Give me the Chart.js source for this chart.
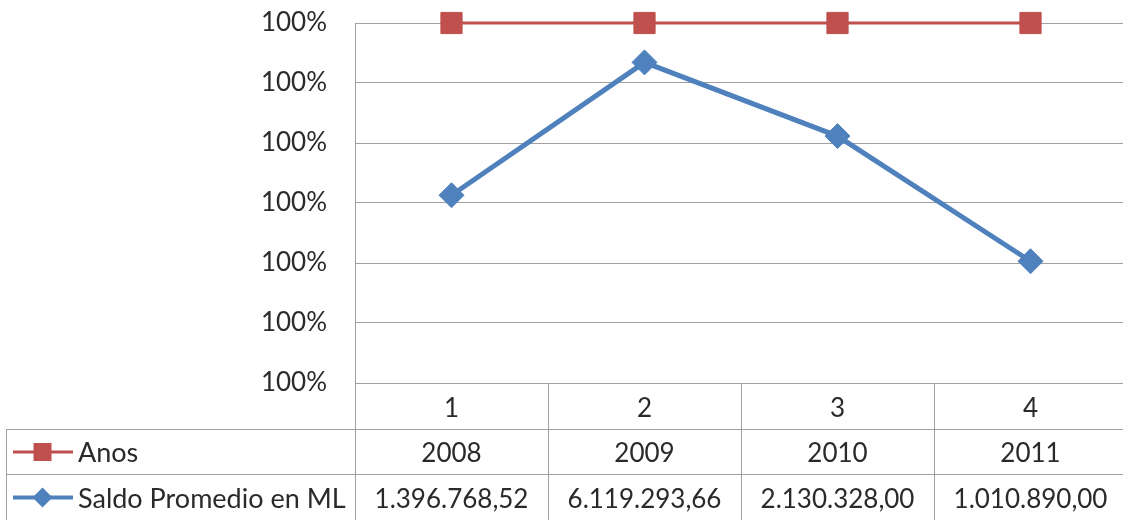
<!DOCTYPE html>
<html>
<head>
<meta charset="utf-8">
<script src="https://cdn.jsdelivr.net/npm/chart.js@4.4.1/dist/chart.umd.min.js"></script>
<style>
  html, body { margin: 0; padding: 0; background: #fff; overflow: hidden; width: 1123px; height: 520px; }
  canvas { display: block; }
</style>
</head>
<body>
<canvas id="c" width="1130" height="520"></canvas>
<script>
// Category positions, the two series and the axis tick labels
const categories = ['1', '2', '3', '4'];
const anos = [2008, 2009, 2010, 2011];
const saldo = [1396768.52, 6119293.66, 2130328.00, 1010890.00];
const seriesNames = ['Anos', 'Saldo Promedio en ML'];
const yTicks = { min: 0.997, max: 1.0, step: 0.0005 };

// 100% stacked line: each series is drawn as its cumulative share of the column total
const totals = anos.map((a, i) => a + saldo[i]);
const saldoShare = saldo.map((s, i) => s / totals[i]);
const anosShare = anos.map((a, i) => (saldo[i] + a) / totals[i]);

const FONT = 'Lato, "Open Sans", sans-serif';
const FONT_SIZE = 26;
const TEXT = '#2a2a2a';
const GRID = '#a0a0a0';
const RED = '#C0504D';
const BLUE = '#4F81BD';

const fmtSaldo = v => v.toLocaleString('de-DE', { minimumFractionDigits: 2, maximumFractionDigits: 2 });

// Data table under the plot: series legend keys, names and the raw values per category
const dataTable = {
  id: 'dataTable',
  afterDraw(chart) {
    const ctx = chart.ctx;
    const xs = chart.scales.x;
    const area = chart.chartArea;
    const top = Math.round(area.bottom);
    const bottom = chart.height;
    const rowH = (bottom - top) / 3;
    const r1 = Math.round(top + rowH);
    const r2 = Math.round(top + 2 * rowH);
    const left = 6;
    const n = categories.length;
    const colW = (xs.right - xs.left) / n;

    ctx.save();
    ctx.strokeStyle = GRID;
    ctx.lineWidth = 1;
    ctx.beginPath();
    // row separators
    ctx.moveTo(left, r1 + 0.5); ctx.lineTo(chart.width, r1 + 0.5);
    ctx.moveTo(left, r2 + 0.5); ctx.lineTo(chart.width, r2 + 0.5);
    // legend column left edge
    ctx.moveTo(left + 0.5, r1); ctx.lineTo(left + 0.5, bottom);
    // column edges
    for (let i = 0; i <= n; i++) {
      const x = Math.round(xs.left + i * colW) + 0.5;
      ctx.moveTo(x, top); ctx.lineTo(x, bottom);
    }
    ctx.stroke();

    // legend keys
    const keyX0 = 13, keyX1 = 73, keyC = 42.5;
    const y1 = (r1 + r2) / 2 + 0.5;
    const y2 = (r2 + bottom) / 2 + 0.5;
    ctx.strokeStyle = RED; ctx.lineWidth = 3;
    ctx.beginPath(); ctx.moveTo(keyX0, y1); ctx.lineTo(keyX1, y1); ctx.stroke();
    ctx.fillStyle = RED;
    ctx.fillRect(keyC - 9, y1 - 9, 18, 18);
    ctx.strokeStyle = BLUE; ctx.lineWidth = 4;
    ctx.beginPath(); ctx.moveTo(keyX0, y2); ctx.lineTo(keyX1, y2); ctx.stroke();
    ctx.fillStyle = BLUE;
    ctx.beginPath();
    ctx.moveTo(keyC, y2 - 10); ctx.lineTo(keyC + 10, y2); ctx.lineTo(keyC, y2 + 10); ctx.lineTo(keyC - 10, y2);
    ctx.closePath(); ctx.fill();

    // texts
    ctx.fillStyle = TEXT;
    ctx.textBaseline = 'alphabetic';
    ctx.textAlign = 'left';
    const b1 = y1 + 9.5, b2 = y2 + 10;
    ctx.font = '27px ' + FONT;
    ctx.fillText(seriesNames[0], 78, b1);
    ctx.fillText(seriesNames[1], 78, b2);
    ctx.font = FONT_SIZE + 'px ' + FONT;
    ctx.textAlign = 'center';
    for (let i = 0; i < n; i++) {
      const cx = xs.getPixelForValue(i);
      ctx.fillText(String(anos[i]), cx, b1);
      ctx.fillText(fmtSaldo(saldo[i]), cx, b2);
    }
    ctx.restore();
  }
};

new Chart(document.getElementById('c'), {
  type: 'line',
  data: {
    labels: categories,
    datasets: [
      {
        label: seriesNames[0],
        data: anosShare,
        borderColor: RED,
        backgroundColor: RED,
        borderWidth: 3,
        pointStyle: 'rect',
        pointRadius: 15,
        pointBorderWidth: 1,
        pointBorderColor: RED,
        tension: 0,
        clip: false
      },
      {
        label: seriesNames[1],
        data: saldoShare,
        borderColor: BLUE,
        backgroundColor: BLUE,
        borderWidth: 5,
        pointStyle: 'rectRot',
        pointRadius: 12.5,
        pointBorderWidth: 1,
        pointBorderColor: BLUE,
        tension: 0,
        clip: false
      }
    ]
  },
  options: {
    responsive: false,
    animation: false,
    devicePixelRatio: 1,
    layout: { autoPadding: false, padding: { top: 23, right: 3, left: 0, bottom: 0 } },
    plugins: { legend: { display: false }, tooltip: { enabled: false } },
    scales: {
      x: {
        offset: true,
        grid: { display: false, drawTicks: false },
        border: { display: false },
        ticks: { color: TEXT, font: { family: FONT, size: FONT_SIZE }, padding: 10, maxRotation: 0 },
        afterFit(s) { s.height = 137; s.paddingLeft = 0; s.paddingRight = 0; }
      },
      y: {
        min: yTicks.min,
        max: yTicks.max,
        grid: { color: GRID, drawTicks: false },
        border: { color: GRID },
        ticks: {
          stepSize: yTicks.step,
          color: TEXT,
          font: { family: FONT, size: FONT_SIZE },
          padding: 28,
          callback: v => Math.round(v * 100) + '%'
        },
        afterFit(s) { s.width = 355; s.paddingTop = 0; s.paddingBottom = 0; }
      }
    }
  },
  plugins: [dataTable]
});
</script>
</body>
</html>
